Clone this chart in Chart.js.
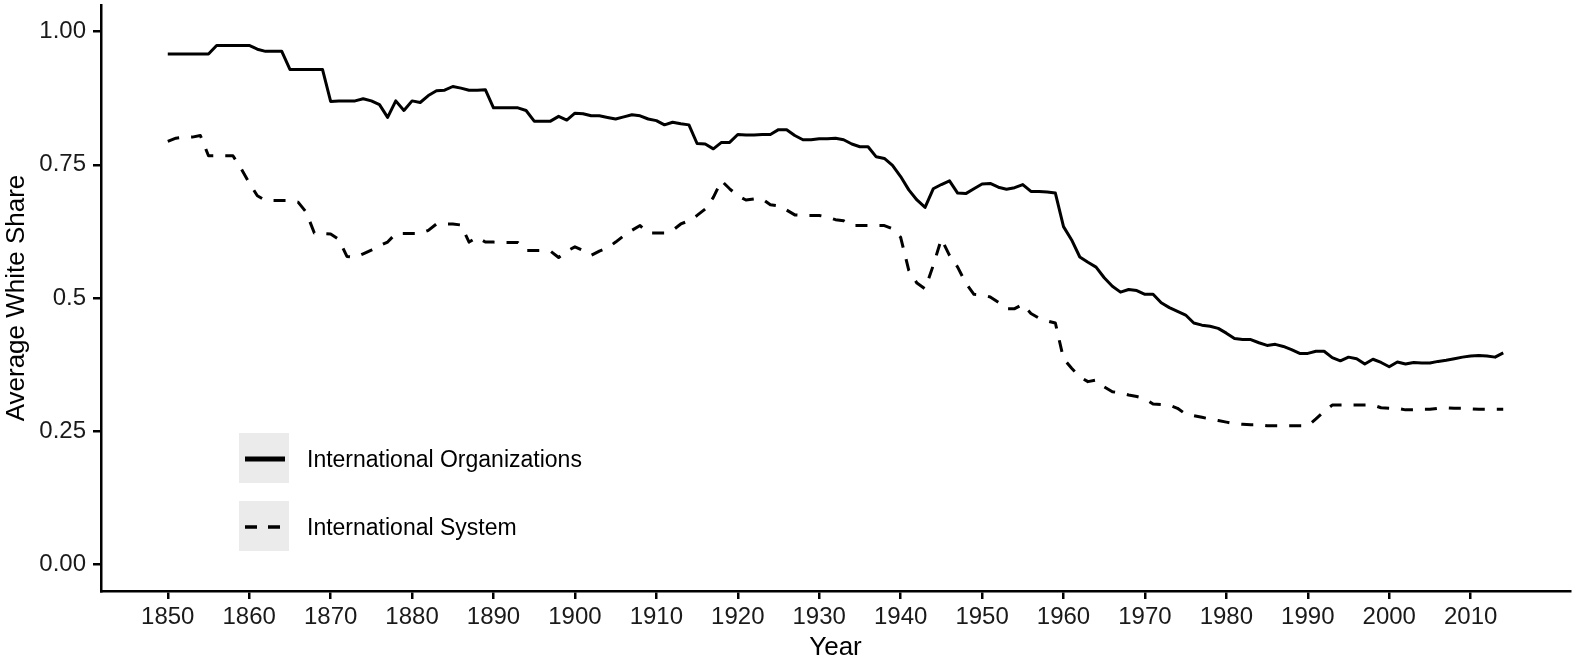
<!DOCTYPE html>
<html>
<head>
<meta charset="utf-8">
<script src="https://cdn.jsdelivr.net/npm/chart.js@4"></script>
<style>
html,body{margin:0;padding:0;background:#fff;}
#wrap{width:1575px;height:663px;position:relative;}
</style>
</head>
<body>
<div id="wrap"><canvas id="c"></canvas></div>
<script>
const years = [
1850,1851,1852,1853,1854,1855,1856,1857,1858,1859,
1860,1861,1862,1863,1864,1865,1866,1867,1868,1869,
1870,1871,1872,1873,1874,1875,1876,1877,1878,1879,
1880,1881,1882,1883,1884,1885,1886,1887,1888,1889,
1890,1891,1892,1893,1894,1895,1896,1897,1898,1899,
1900,1901,1902,1903,1904,1905,1906,1907,1908,1909,
1910,1911,1912,1913,1914,1915,1916,1917,1918,1919,
1920,1921,1922,1923,1924,1925,1926,1927,1928,1929,
1930,1931,1932,1933,1934,1935,1936,1937,1938,1939,
1940,1941,1942,1943,1944,1945,1946,1947,1948,1949,
1950,1951,1952,1953,1954,1955,1956,1957,1958,1959,
1960,1961,1962,1963,1964,1965,1966,1967,1968,1969,
1970,1971,1972,1973,1974,1975,1976,1977,1978,1979,
1980,1981,1982,1983,1984,1985,1986,1987,1988,1989,
1990,1991,1992,1993,1994,1995,1996,1997,1998,1999,
2000,2001,2002,2003,2004,2005,2006,2007,2008,2009,
2010,2011,2012,2013,2014
];

// International Organizations (solid)
const ioShare = [
0.958,0.958,0.958,0.958,0.958,0.958,0.974,0.974,0.974,0.974,
0.974,0.967,0.963,0.963,0.963,0.929,0.929,0.929,0.929,0.929,
0.869,0.870,0.870,0.870,0.874,0.870,0.863,0.839,0.870,0.852,
0.870,0.867,0.880,0.889,0.890,0.897,0.894,0.890,0.890,0.891,
0.857,0.857,0.857,0.857,0.852,0.832,0.832,0.832,0.841,0.834,
0.847,0.846,0.842,0.842,0.839,0.836,0.840,0.844,0.842,0.836,
0.833,0.825,0.830,0.827,0.825,0.790,0.789,0.780,0.792,0.792,
0.807,0.806,0.806,0.807,0.807,0.816,0.816,0.805,0.797,0.797,
0.799,0.799,0.800,0.797,0.789,0.784,0.784,0.765,0.762,0.749,
0.728,0.703,0.684,0.670,0.705,0.713,0.720,0.697,0.696,0.705,
0.714,0.715,0.708,0.704,0.707,0.713,0.700,0.700,0.699,0.697,
0.634,0.609,0.577,0.567,0.558,0.538,0.522,0.511,0.516,0.514,
0.507,0.507,0.491,0.482,0.475,0.468,0.453,0.449,0.447,0.443,
0.434,0.424,0.422,0.422,0.416,0.411,0.413,0.409,0.403,0.396,
0.396,0.400,0.400,0.388,0.382,0.389,0.386,0.376,0.385,0.379,
0.371,0.380,0.376,0.379,0.378,0.378,0.381,0.383,0.386,0.389,
0.391,0.392,0.391,0.389,0.397
];

// International System (dashed)
const systemShare = [
0.794,0.800,0.802,0.802,0.805,0.767,0.767,0.767,0.767,0.743,
0.716,0.692,0.683,0.683,0.683,0.683,0.680,0.661,0.622,0.621,
0.620,0.610,0.578,0.576,0.583,0.590,0.598,0.605,0.621,0.621,
0.621,0.621,0.627,0.639,0.639,0.639,0.637,0.605,0.614,0.605,
0.605,0.604,0.604,0.604,0.589,0.589,0.589,0.588,0.576,0.588,
0.596,0.589,0.580,0.588,0.594,0.605,0.617,0.627,0.636,0.622,
0.622,0.622,0.627,0.639,0.645,0.655,0.667,0.689,0.720,0.705,
0.692,0.684,0.686,0.686,0.675,0.673,0.665,0.656,0.655,0.655,
0.655,0.652,0.647,0.645,0.636,0.636,0.636,0.636,0.636,0.630,
0.614,0.552,0.528,0.517,0.561,0.611,0.580,0.558,0.528,0.507,
0.506,0.502,0.492,0.480,0.480,0.488,0.471,0.462,0.457,0.453,
0.386,0.368,0.352,0.343,0.346,0.333,0.324,0.322,0.318,0.315,
0.311,0.301,0.300,0.299,0.293,0.282,0.279,0.276,0.273,0.270,
0.267,0.264,0.263,0.262,0.262,0.260,0.260,0.260,0.260,0.260,
0.260,0.273,0.287,0.299,0.299,0.299,0.299,0.299,0.299,0.294,
0.293,0.293,0.290,0.290,0.291,0.291,0.293,0.294,0.293,0.293,
0.292,0.291,0.291,0.291,0.291
];

const seriesNames = ["International Organizations", "International System"];
const xTickYears = [1850,1860,1870,1880,1890,1900,1910,1920,1930,1940,1950,1960,1970,1980,1990,2000,2010];
const yTickValues = [0, 0.25, 0.5, 0.75, 1];
const yTickLabels = ["0.00", "0.25", "0.5", "0.75", "1.00"];

const FONT = "'Liberation Sans', Arial, Helvetica, sans-serif";

const insetLegend = {
  id: 'insetLegend',
  afterDraw(chart) {
    const ctx = chart.ctx, a = chart.chartArea;
    const keys = [
      {label: seriesNames[0], dash: [], width: 5},
      {label: seriesNames[1], dash: [12, 11], width: 3.5}
    ];
    ctx.save();
    keys.forEach((k, i) => {
      const bx = a.left + 138;
      const by = a.top + 428 + i * 68;
      ctx.fillStyle = '#EBEBEB';
      ctx.fillRect(bx, by, 50, 50);
      ctx.strokeStyle = '#000';
      ctx.lineWidth = k.width;
      ctx.lineCap = 'butt';
      ctx.setLineDash(k.dash);
      ctx.beginPath();
      ctx.moveTo(bx + 6, by + 26);
      ctx.lineTo(bx + 46, by + 26);
      ctx.stroke();
      ctx.setLineDash([]);
      ctx.fillStyle = '#000';
      ctx.font = '23px ' + FONT;
      ctx.textAlign = 'left';
      ctx.textBaseline = 'alphabetic';
      ctx.fillText(k.label, bx + 68, by + 34);
    });
    ctx.restore();
  }
};

const toPoints = vals => years.map((yr, i) => ({x: yr, y: vals[i]}));

new Chart(document.getElementById('c'), {
  type: 'line',
  data: {
    datasets: [
      {
        label: seriesNames[0],
        data: toPoints(ioShare),
        borderColor: '#000',
        borderWidth: 3,
        pointRadius: 0,
        tension: 0,
        borderJoinStyle: 'round',
        fill: false
      },
      {
        label: seriesNames[1],
        data: toPoints(systemShare),
        borderColor: '#000',
        borderWidth: 3,
        borderDash: [12, 12],
        pointRadius: 0,
        tension: 0,
        borderJoinStyle: 'round',
        fill: false
      }
    ]
  },
  options: {
    responsive: true,
    maintainAspectRatio: false,
    animation: false,
    layout: {padding: {top: 5, right: 5, left: 0, bottom: 0}},
    plugins: {legend: {display: false}, tooltip: {enabled: false}},
    scales: {
      x: {
        type: 'linear',
        min: 1841.8,
        max: 2022.2,
        afterBuildTicks: s => { s.ticks = xTickYears.map(v => ({value: v})); },
        afterFit: s => { s.height = 72; s.paddingLeft = 0; s.paddingRight = 0; },
        grid: {display: true, drawOnChartArea: false, drawTicks: true, tickLength: 8, color: '#000', lineWidth: 2.5},
        border: {display: true, color: '#000', width: 2.5},
        ticks: {
          font: {family: FONT, size: 24},
          color: '#1a1a1a',
          padding: 4,
          maxRotation: 0,
          autoSkip: false,
          callback: v => String(v)
        },
        title: {
          display: true,
          text: 'Year',
          color: '#000',
          font: {family: FONT, size: 26, lineHeight: 1.15},
          padding: {top: 0, bottom: 0}
        }
      },
      y: {
        type: 'linear',
        min: -0.05,
        max: 1.05,
        afterBuildTicks: s => { s.ticks = yTickValues.map(v => ({value: v})); },
        afterFit: s => { s.width = 101; s.paddingTop = 0; s.paddingBottom = 0; },
        grid: {display: true, drawOnChartArea: false, drawTicks: true, tickLength: 8, color: '#000', lineWidth: 2.5},
        border: {display: true, color: '#000', width: 2.5},
        ticks: {
          font: {family: FONT, size: 24},
          color: '#1a1a1a',
          padding: 7,
          autoSkip: false,
          callback: v => { const i = yTickValues.indexOf(v); return i >= 0 ? yTickLabels[i] : ''; }
        },
        title: {
          display: true,
          text: 'Average White Share',
          color: '#000',
          font: {family: FONT, size: 26, lineHeight: 1.2},
          padding: {top: 1, bottom: 0}
        }
      }
    }
  },
  plugins: [insetLegend]
});
</script>
</body>
</html>
